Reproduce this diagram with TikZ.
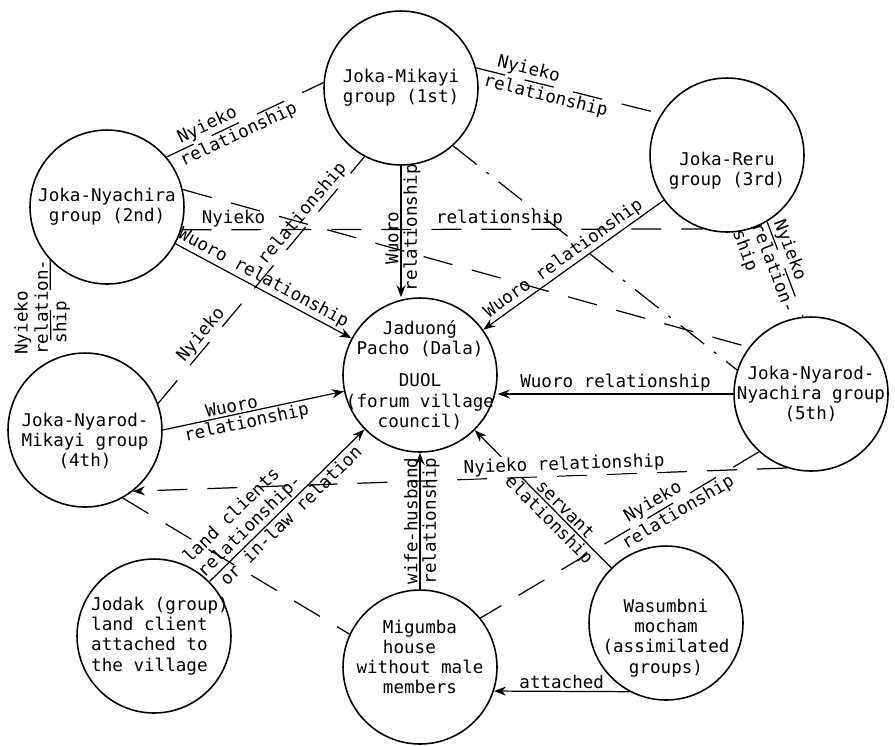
\documentclass[tikz,border=0pt]{standalone}
\usepackage{fontspec}
\setmainfont{DejaVu Sans Mono}
\usetikzlibrary{arrows.meta}
\tikzset{clan/.style={circle,draw,line width=0.9pt,minimum size=3.08cm,inner sep=0pt}}
\tikzset{txt/.style={align=center,inner sep=0pt,font=\fontsize{10}{11.5}\selectfont}}
\tikzset{lbl/.style={inner sep=1pt,font=\fontsize{10}{11.5}\selectfont}}
\tikzset{wuoroArrow/.style={-{Stealth[length=2.4mm,width=1.8mm]},line width=0.7pt}}
\tikzset{nyiekoLine/.style={line width=0.7pt,dash pattern=on 6mm off 4mm}}
\tikzset{dotLine/.style={line width=0.7pt,dash pattern=on 6mm off 2.5mm on 0.6mm off 2.5mm}}

\begin{document}
\begin{tikzpicture}[x=0.02cm,y=-0.02cm]
\useasboundingbox (0,0) rectangle (895,745);
% the groups of the village
\node (mikayi) [clan, label={[txt]center:{Joka-Mikayi\\group (1st)}}] at (401,88) {};
\node (nyachira) [clan, label={[txt]center:{Joka-Nyachira\\group (2nd)}}] at (107,207) {};
\node (reru) [clan, label={[txt,yshift=-3.2mm]center:{Joka-Reru\\group (3rd)}}] at (727,155) {};
\node (dala) [clan, label={[txt]center:{Jaduonǵ\\Pacho (Dala)\\[2.4mm]DUOL\\(forum village\\council)}}] at (420,375) {};
\node (nyarodmikayi) [clan, label={[txt,yshift=-2.2mm]center:{Joka-Nyarod-\\Mikayi group\\(4th)}}] at (85,430) {};
\node (nyarodnyachira) [clan, label={[txt]center:{Joka-Nyarod-\\Nyachira group\\(5th)}}] at (811,394) {};
\node (jodak) [clan, label={[txt,align=left,xshift=1.2mm]center:{Jodak (group)\\land client\\attached to\\the village}}] at (154,636) {};
\node (migumba) [clan, label={[txt,yshift=2mm]center:{Migumba\\house\hphantom{aa}\\without male\\members}}] at (420,667) {};
\node (wasumbni) [clan, label={[txt,yshift=-3mm]center:{Wasumbni\\mocham\\(assimilated\\groups)}}] at (666,623) {};

% wuoro relationships
\draw[wuoroArrow] (mikayi.south) -- (mikayi.south |- dala.north)
  node[lbl,pos=.55,rotate=90,anchor=south] {Wuoro}
  node[lbl,pos=.47,rotate=90,anchor=north] {relationship};
\draw[wuoroArrow] (nyachira) -- (dala) node[lbl,sloped,above,pos=.47] {Wuoro relationship};
\draw[wuoroArrow] (reru) -- (dala) node[lbl,sloped,above,pos=.52] {Wuoro relationship};
\draw[wuoroArrow] (nyarodnyachira.west) -- (nyarodnyachira.west -| dala.east) node[lbl,above,midway] {Wuoro relationship};
\draw[wuoroArrow] (nyarodmikayi.east) -- (dala)
  node[lbl,sloped,above,pos=.39] {Wuoro}
  node[lbl,sloped,below,pos=.45] {relationship};
\draw[wuoroArrow] (jodak) -- (dala)
  node[lbl,sloped,above,pos=.31,align=left] {land clients\\relationship-}
  node[lbl,sloped,below,pos=.48] {or in-law relation};
\draw[wuoroArrow] (migumba) -- (dala)
  node[lbl,pos=.5,rotate=90,anchor=south] {wife-husband}
  node[lbl,pos=.5,rotate=90,anchor=north] {relationship};
\draw[wuoroArrow] (wasumbni) -- (dala)
  node[lbl,sloped,above,pos=.38] {servant}
  node[lbl,sloped,below,pos=.43] {relationship};
\draw[wuoroArrow] (wasumbni.-118) -- (migumba.-18) node[lbl,above,midway] {attached};

% nyieko relationships
\draw[nyiekoLine] (nyachira.40) -- (mikayi.176)
  node[lbl,sloped,above,pos=.29] {Nyieko}
  node[lbl,sloped,below,pos=.43] {relationship};
\draw[nyiekoLine] (mikayi.15) -- (reru.148)
  node[lbl,sloped,above,pos=.27] {Nyieko}
  node[lbl,sloped,below,pos=.39] {relationship};
\draw[nyiekoLine] (nyachira.-137) -- (nyarodmikayi.116)
  node[lbl,pos=.47,rotate=90,anchor=south,align=left] {Nyieko\\relation-}
  node[lbl,pos=.62,rotate=90,anchor=north] {ship};
\draw[nyiekoLine] (reru.-59) -- (nyarodnyachira.96)
  node[lbl,sloped,above,pos=.34] {Nyieko}
  node[lbl,sloped,below,pos=.45,align=left] {relation-\\ship};
\draw[dotLine] (mikayi.-48) -- (nyarodnyachira.162);
\draw[nyiekoLine] (nyachira.-17) -- (reru.-108)
  node[lbl,sloped,above,pos=.1] {Nyieko}
  node[lbl,sloped,above,pos=.61] {relationship};
\draw[nyiekoLine] (nyachira.13) -- (nyarodnyachira.143);
\draw[nyiekoLine] (nyarodmikayi.20) -- (mikayi.-118)
  node[lbl,sloped,above,pos=.25] {Nyieko}
  node[lbl,sloped,above,pos=.74] {relationship};
\draw[nyiekoLine,-{Stealth[length=2.4mm,width=1.8mm]}] (nyarodnyachira.-108) -- (nyarodmikayi.-52)
  node[lbl,sloped,above,pos=.34,fill=white] {Nyieko relationship};
\draw[nyiekoLine] (nyarodnyachira.-132) -- (migumba.39)
  node[lbl,sloped,above,pos=.36] {Nyieko}
  node[lbl,sloped,below,pos=.31] {relationship};
\draw[nyiekoLine] (nyarodmikayi.-61) -- (migumba.155);
\end{tikzpicture}
\end{document}
